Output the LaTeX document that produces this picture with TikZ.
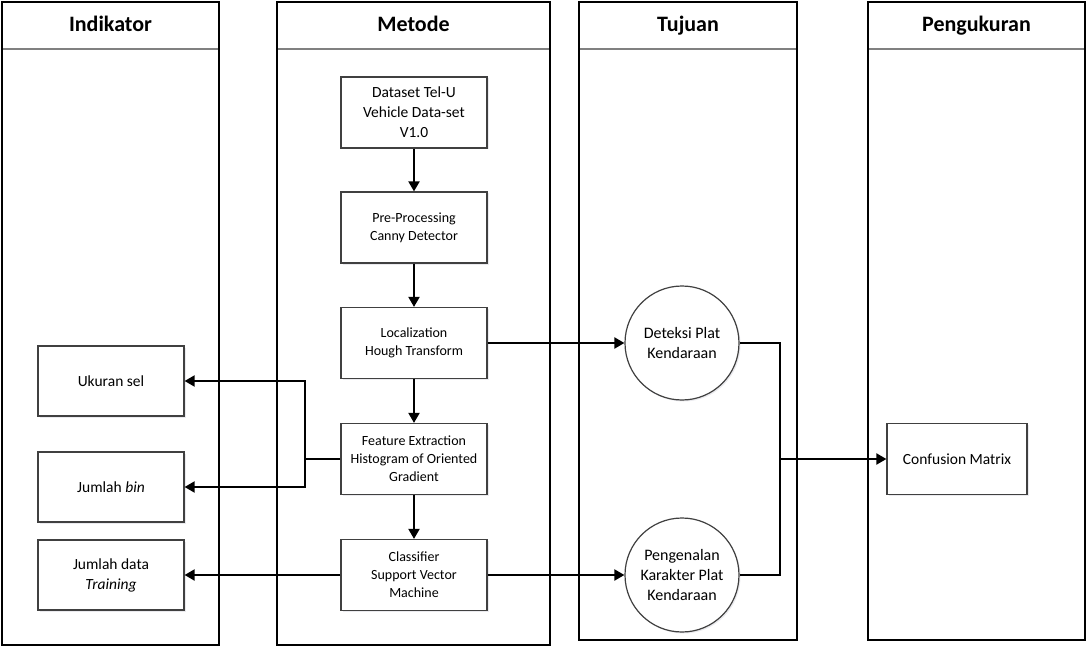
\documentclass[tikz,border=0pt]{standalone}
\usepackage{fontspec}
\setmainfont{Carlito}
\usetikzlibrary{arrows.meta,shadows}
\begin{document}
\begin{tikzpicture}[x=1pt,y=-1pt,
  lane/.style={draw=black,line width=1.4pt},
  headline/.style={draw=black!50,line width=2pt},
  head/.style={font=\fontsize{22}{26}\selectfont\bfseries,anchor=base},
  box/.style={draw=black!75,line width=1.2pt,fill=white,minimum width=146pt,minimum height=71pt,inner sep=2pt,align=center,
    drop shadow={shadow xshift=1.5pt,shadow yshift=-1.5pt,fill=blue!10!gray!25,opacity=0.6}},
  bigtxt/.style={font=\fontsize{15.5}{20}\selectfont},
  smalltxt/.style={font=\fontsize{14}{18}\selectfont},
  circ/.style={circle,draw=black!75,line width=1.2pt,fill=white,minimum size=114pt,inner sep=0pt,align=center,
    font=\fontsize{16}{20}\selectfont,
    drop shadow={shadow xshift=1.5pt,shadow yshift=-1.5pt,fill=blue!10!gray!25,opacity=0.6}},
  conn/.style={draw=black,line width=2pt},
  arr/.style={conn,-{Triangle[length=10pt,width=11pt]}}
]
\useasboundingbox (0,0) rectangle (1087,647);
% lanes
\draw[lane] (2,2) rectangle (219,645);
\draw[headline] (3,49) -- (218,49);
\node[head] (hInd) at (110.5,32) {Indikator};
\draw[lane] (277,2) rectangle (550,645);
\draw[headline] (278,49) -- (549,49);
\node[head] (hMet) at (413.5,32) {Metode};
\draw[lane] (579,2) rectangle (797,640);
\draw[headline] (580,49) -- (796,49);
\node[head] (hTuj) at (688,32) {Tujuan};
\draw[lane] (868,2) rectangle (1085,640);
\draw[headline] (869,49) -- (1084,49);
\node[head] (hPen) at (976.5,32) {Pengukuran};
% method boxes
\node[box,bigtxt] (ds) at (414,112.5) {Dataset Tel-U\\Vehicle Data-set\\V1.0};
\node[box,smalltxt] (pre) at (414,227.5) {Pre-Processing\\Canny Detector};
\node[box,smalltxt] (loc) at (414,343) {Localization\\Hough Transform};
\node[box,smalltxt] (feat) at (414,459) {Feature Extraction\\Histogram of Oriented\\Gradient};
\node[box,smalltxt] (cls) at (414,575) {Classifier\\Support Vector\\Machine};
% indicators
\node[box,bigtxt,minimum height=70pt] (uk) at (111,381) {Ukuran sel};
\node[box,bigtxt,minimum height=70pt] (bin) at (111,487) {Jumlah \textit{bin}};
\node[box,bigtxt,minimum height=70pt] (jd) at (111,575) {Jumlah data\\\textit{Training}};
% goals
\node[circ] (det) at (682,343) {Deteksi Plat\\Kendaraan};
\node[circ] (pgn) at (682,575) {Pengenalan\\Karakter Plat\\Kendaraan};
% measurement
\node[box,bigtxt,minimum width=140pt] (cm) at (957,459) {Confusion Matrix};
% connectors
\draw[arr] (ds) -- (pre);
\draw[arr] (pre) -- (loc);
\draw[arr] (loc) -- (feat);
\draw[arr] (feat) -- (cls);
\coordinate (j1) at (305,459);
\draw[conn] (feat.west) -- (j1);
\draw[arr] (j1) |- (uk.east);
\draw[arr] (j1) |- (bin.east);
\draw[arr] (cls.west) -- (jd.east);
\draw[arr] (loc.east) -- (det.west);
\draw[arr] (cls.east) -- (pgn.west);
\coordinate (j2) at (780,459);
\draw[conn] (det.east) -| (j2);
\draw[conn] (pgn.east) -| (j2);
\draw[arr] (j2) -- (cm.west);
\end{tikzpicture}
\end{document}
